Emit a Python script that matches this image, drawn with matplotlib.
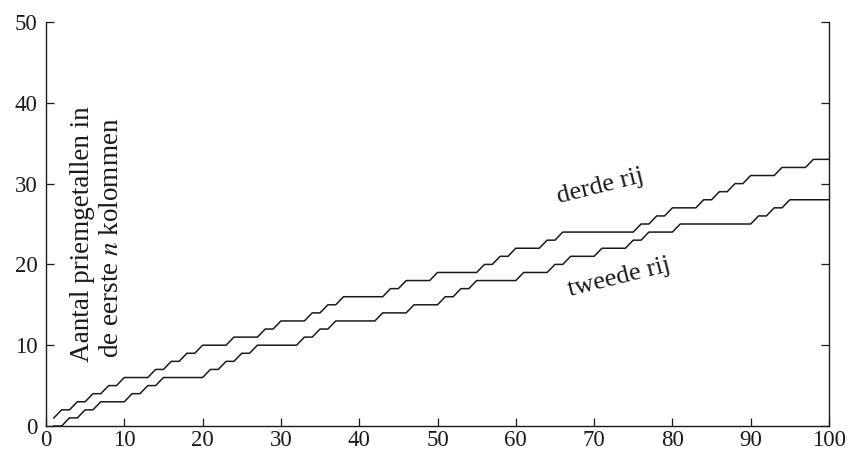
import matplotlib
matplotlib.use("Agg")
import matplotlib.pyplot as plt

# kolom n = 1..100
kolommen = list(range(1, 101))

# aantal priemgetallen in de eerste n kolommen, tweede rij
tweede_rij = [
    0, 0, 1, 1, 2, 2, 3, 3, 3, 3,
    4, 4, 5, 5, 6, 6, 6, 6, 6, 6,
    7, 7, 8, 8, 9, 9, 10, 10, 10, 10,
    10, 10, 11, 11, 12, 12, 13, 13, 13, 13,
    13, 13, 14, 14, 14, 14, 15, 15, 15, 15,
    16, 16, 17, 17, 18, 18, 18, 18, 18, 18,
    19, 19, 19, 19, 20, 20, 21, 21, 21, 21,
    22, 22, 22, 22, 23, 23, 24, 24, 24, 24,
    25, 25, 25, 25, 25, 25, 25, 25, 25, 25,
    26, 26, 27, 27, 28, 28, 28, 28, 28, 28,
]

# derde rij
derde_rij = [
    1, 2, 2, 3, 3, 4, 4, 5, 5, 6,
    6, 6, 6, 7, 7, 8, 8, 9, 9, 10,
    10, 10, 10, 11, 11, 11, 11, 12, 12, 13,
    13, 13, 13, 14, 14, 15, 15, 16, 16, 16,
    16, 16, 16, 17, 17, 18, 18, 18, 18, 19,
    19, 19, 19, 19, 19, 20, 20, 21, 21, 22,
    22, 22, 22, 23, 23, 24, 24, 24, 24, 24,
    24, 24, 24, 24, 24, 25, 25, 26, 26, 27,
    27, 27, 27, 28, 28, 29, 29, 30, 30, 31,
    31, 31, 31, 32, 32, 32, 32, 33, 33, 33,
]

x_ticks = [0, 10, 20, 30, 40, 50, 60, 70, 80, 90, 100]
y_ticks = [0, 10, 20, 30, 40, 50]

plt.rcParams['font.family'] = ['Liberation Serif', 'DejaVu Serif']
plt.rcParams['mathtext.fontset'] = 'stix'

fig = plt.figure(figsize=(8.47, 4.55), dpi=100)
x0_px, x1_px, y0_px, y1_px = 46, 829, 426, 22
ax = fig.add_axes([x0_px / 847, 1 - y0_px / 455,
                   (x1_px - x0_px) / 847, (y0_px - y1_px) / 455])

ink = '#1a1a1a'
ax.plot(kolommen, tweede_rij, color=ink, lw=1.1)
ax.plot(kolommen, derde_rij, color=ink, lw=1.1)

ax.set_xlim(0, 100)
ax.set_ylim(0, 50)
ax.set_xticks(x_ticks)
ax.set_yticks(y_ticks)
ax.tick_params(direction='in', length=6, width=0.9, colors=ink,
               labelsize=16.5, right=True, top=False)
ax.tick_params(axis='x', pad=3)
ax.tick_params(axis='y', pad=6)
for s in ['left', 'bottom', 'right']:
    ax.spines[s].set_color(ink)
    ax.spines[s].set_linewidth(1.0)
ax.spines['top'].set_visible(False)

ax.text(4.7, 23.8, 'Aantal priemgetallen in', rotation=90, fontsize=19.5,
        ha='center', va='center', color=ink)
ax.text(8.4, 23.3, 'de eerste $n$ kolommen', rotation=90, fontsize=19.5,
        ha='center', va='center', color=ink)

ax.text(70.8, 29.6, 'derde rij', rotation=14, fontsize=19,
        ha='center', va='center', color=ink)
ax.text(73.2, 18.4, 'tweede rij', rotation=14, fontsize=19,
        ha='center', va='center', color=ink)

fig.savefig('out.png', dpi=100)
